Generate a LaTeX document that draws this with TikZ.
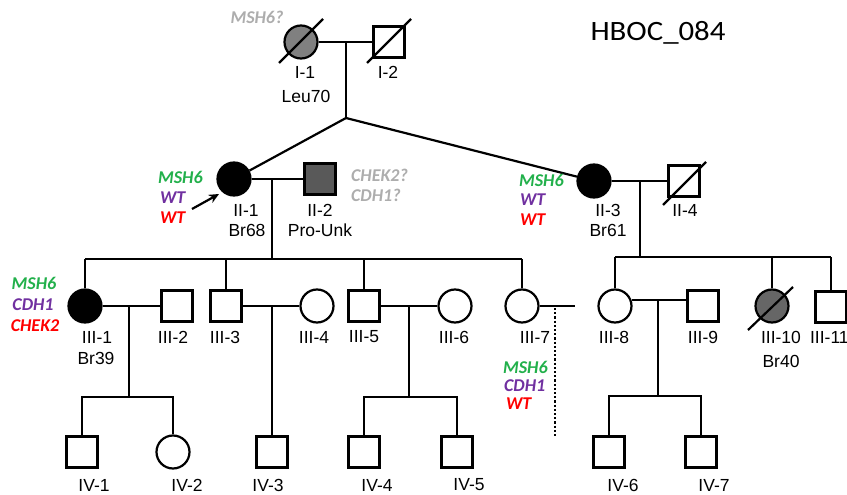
\documentclass[tikz,border=0pt]{standalone}
\usepackage{fontspec}
\setmainfont{Liberation Sans}
\newfontfamily\calib{Carlito}
\usetikzlibrary{arrows.meta,calc}
\definecolor{gGreen}{HTML}{22B04B}
\definecolor{gPurple}{HTML}{7030A0}
\definecolor{gRed}{HTML}{FF0000}
\definecolor{gGray}{HTML}{ADADAD}
\definecolor{fillA}{HTML}{808080}
\definecolor{fillB}{HTML}{595959}
\definecolor{fillC}{HTML}{666666}
\begin{document}
\begin{tikzpicture}[x=1pt,y=-1pt,line width=2.2pt,
  male/.style={draw,rectangle,minimum size=31pt,inner sep=0pt,line width=2.2pt},
  female/.style={draw,circle,minimum size=33pt,inner sep=0pt,line width=2.2pt},
  lbl/.style={font=\fontsize{17.5}{19}\selectfont,inner sep=0pt},
  gene/.style={font=\calib\bfseries\itshape\fontsize{18}{20}\selectfont,inner sep=0pt},
  slash/.style={line width=2.2pt}]
\useasboundingbox (0,0) rectangle (847,495);

% Generation I
\node[female,fill=fillA] (I1) at (301,42) {};
\node[male] (I2) at (389,42) {};
\draw (I1) -- (I2);
\draw[slash] ($(I1)+(-22,21)$) -- ($(I1)+(22,-23)$);
\draw[slash] ($(I2)+(-22,21)$) -- ($(I2)+(22,-23)$);
\coordinate (m1) at (346,42);
\coordinate (j1) at (346,118);
\draw (m1) -- (j1);

\node[gene,text=gGray] (g0) at (257,17) {MSH6?};
\node[lbl] (lI1) at (305,72) {I-1};
\node[lbl] (dI1) at (306,96) {Leu70};
\node[lbl] (lI2) at (388,72) {I-2};
\node[inner sep=0pt,font=\calib\fontsize{28}{32}\selectfont] (title) at (658,33) {\scalebox{1.1}[1]{HBOC\_084}};

% Generation II
\node[female,fill=black] (II1) at (234,179) {};
\node[male,fill=fillB] (II2) at (320,179) {};
\node[female,fill=black] (II3) at (594,181) {};
\node[male] (II4) at (684,181) {};
\draw (j1) -- (II1);
\draw (j1) -- (II3);
\draw (II1) -- (II2);
\draw (II3) -- (II4);
\draw[slash] ($(II4)+(-21,24)$) -- ($(II4)+(22,-19)$);

\coordinate (pa) at (192,209);
\coordinate (pb) at (219,194);
\draw[-{Stealth[length=10pt,width=9pt]}] (pa) -- (pb);

\node[lbl] (lII1) at (246,210) {II-1};
\node[lbl] (dII1) at (247,230) {Br68};
\node[lbl] (lII2) at (320,210) {II-2};
\node[lbl] (dII2) at (320,230) {Pro-Unk};
\node[lbl] (lII3) at (608,210) {II-3};
\node[lbl] (dII3) at (608,230) {Br61};
\node[lbl] (lII4) at (685,210) {II-4};

\node[gene,text=gGray,anchor=west] (g1) at (350,175) {CHEK2?};
\node[gene,text=gGray,anchor=west] (g2) at (350,195) {CDH1?};

\node[gene,text=gGreen,anchor=west] (g3) at (157,177) {MSH6};
\node[gene,text=gPurple,anchor=west] (g4) at (159,198) {WT};
\node[gene,text=gRed,anchor=west] (g5) at (159,218) {WT};

\node[gene,text=gGreen,anchor=west] (g6) at (518,180) {MSH6};
\node[gene,text=gPurple,anchor=west] (g7) at (519,200) {WT};
\node[gene,text=gRed,anchor=west] (g8) at (519,220) {WT};

% Generation III
\node[female,fill=black] (III1) at (85,306) {};
\node[male] (III2) at (177,306) {};
\node[male] (III3) at (226,306) {};
\node[female] (III4) at (317,306) {};
\node[male] (III5) at (364,306) {};
\node[female] (III6) at (455,306) {};
\node[female] (III7) at (522,306) {};
\node[female] (III8) at (615,306) {};
\node[male] (III9) at (703,306) {};
\node[female,fill=fillC] (III10) at (772,306) {};
\node[male] (III11) at (831,307) {};
\draw[slash] ($(III10)+(-24,24)$) -- ($(III10)+(21,-19)$);

\coordinate (m2) at (272,179);
\coordinate (sL) at (85,259);
\coordinate (sR) at (522,259);
\draw (m2) -- (m2 |- sL);
\draw (sL) -- (sR);
\draw (sL) -- (III1);
\draw (III3 |- sL) -- (III3);
\draw (III5 |- sL) -- (III5);
\draw (sR) -- (III7);

\coordinate (m3) at (640,181);
\coordinate (tL) at (615,257);
\draw (m3) -- (m3 |- tL);
\draw (tL) -- (III11 |- tL);
\draw (tL) -- (III8);
\draw (III10 |- tL) -- (III10);
\draw (III11 |- tL) -- (III11);

\draw (III1) -- (III2);
\draw (III3) -- (III4);
\draw (III5) -- (III6);
\draw (III8.20) -- (III9.west |- III8.20);
\coordinate (e7) at (575,306);
\draw (III7) -- (e7);
\coordinate (d1) at (555,308);
\coordinate (d2) at (555,436);
\draw[dotted] (d1) -- (d2);

\node[lbl] (lIII1) at (97,337) {III-1};
\node[lbl] (dIII1) at (96,358) {Br39};
\node[lbl] (lIII2) at (173,337) {III-2};
\node[lbl] (lIII3) at (225,337) {III-3};
\node[lbl] (lIII4) at (314,337) {III-4};
\node[lbl] (lIII5) at (364,337) {III-5};
\node[lbl] (lIII6) at (454,337) {III-6};
\node[lbl] (lIII7) at (535,337) {III-7};
\node[lbl] (lIII8) at (614,337) {III-8};
\node[lbl] (lIII9) at (703,337) {III-9};
\node[lbl] (lIII10) at (781,337) {III-10};
\node[lbl,anchor=west] (lIII11) at (809,337) {III-11};
\node[lbl] (dIII10) at (781,361) {Br40};

\node[gene,text=gGreen] (g9) at (34,283) {MSH6};
\node[gene,text=gPurple] (g10) at (33,305) {CDH1};
\node[gene,text=gRed] (g11) at (35,326) {CHEK2};

\node[gene,text=gGreen,anchor=west] (g12) at (502,367) {MSH6};
\node[gene,text=gPurple,anchor=west] (g13) at (503,386) {CDH1};
\node[gene,text=gRed,anchor=west] (g14) at (505,404) {WT};

% Generation IV
\node[male] (IV1) at (82,452) {};
\node[female] (IV2) at (173,452) {};
\node[male] (IV3) at (272,452) {};
\node[male] (IV4) at (364,452) {};
\node[male] (IV5) at (457,452) {};
\node[male] (IV6) at (609,452) {};
\node[male] (IV7) at (701,452) {};

\coordinate (c1) at (129,306);
\coordinate (c1b) at (129,397);
\draw (c1) -- (c1b);
\draw (IV1) |- (c1b) -| (IV2);
\coordinate (c2) at (272,306);
\draw (c2) -- (IV3);
\coordinate (c3) at (409,306);
\coordinate (c3b) at (409,397);
\draw (c3) -- (c3b);
\draw (IV4) |- (c3b) -| (IV5);
\coordinate (c4) at (658,300);
\coordinate (c4b) at (658,396);
\draw (c4) -- (c4b);
\draw (IV6) |- (c4b) -| (IV7);

\node[lbl] (lIV1) at (94,485) {IV-1};
\node[lbl] (lIV2) at (187,485) {IV-2};
\node[lbl] (lIV3) at (268,485) {IV-3};
\node[lbl] (lIV4) at (377,485) {IV-4};
\node[lbl] (lIV5) at (469,485) {IV-5};
\node[lbl] (lIV6) at (623,485) {IV-6};
\node[lbl] (lIV7) at (714,485) {IV-7};
\end{tikzpicture}
\end{document}
